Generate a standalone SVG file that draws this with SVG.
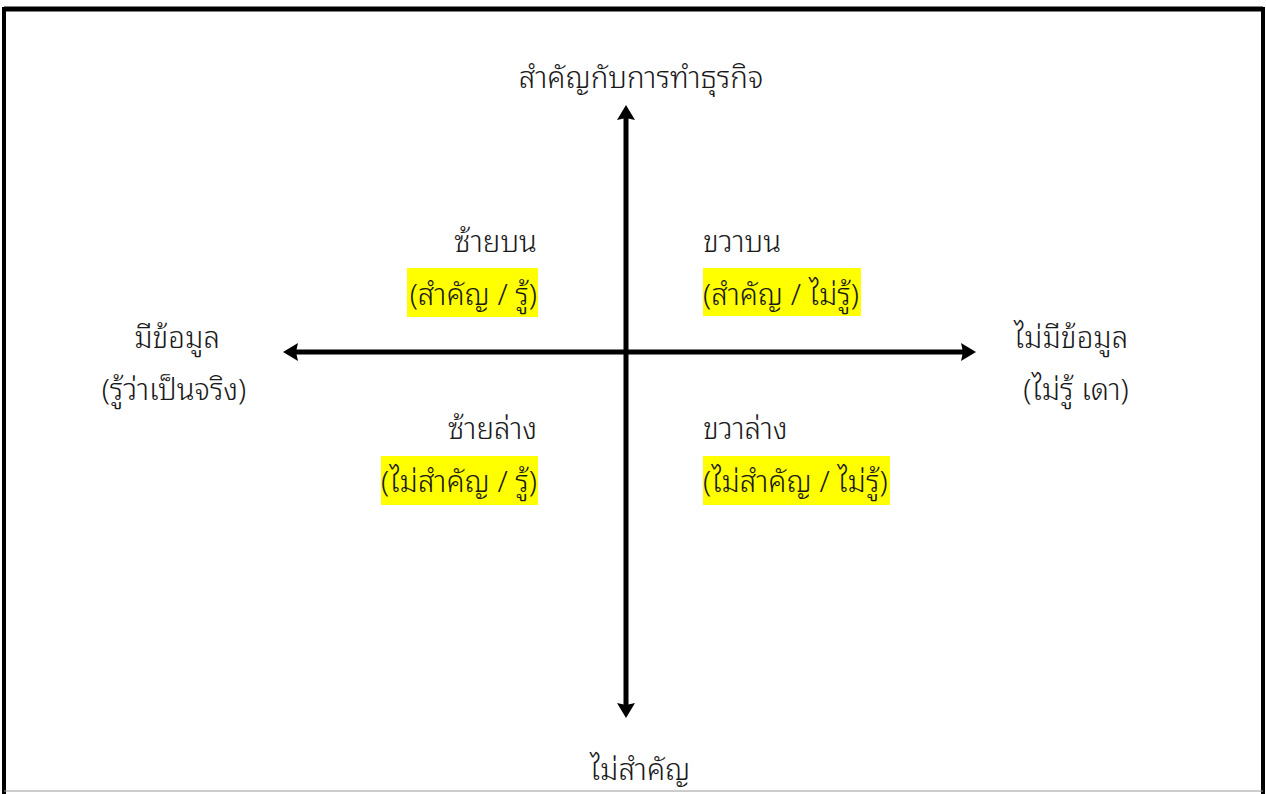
<svg xmlns="http://www.w3.org/2000/svg" width="1266" height="794" viewBox="0 0 1266 794">
<defs>
<style>
text{font-family:"Noto Sans Thai Looped","Noto Looped Thai","Noto Serif Thai","Noto Sans Thai","Noto Sans","DejaVu Sans",sans-serif;font-size:29.5px;font-weight:300;fill:#1a1a1a}
.hl{fill:#ffff00}
.ax{stroke:#000;stroke-width:5;fill:none}
</style>
<marker id="ah" viewBox="0 0 15 18" refX="2" refY="9" markerWidth="15" markerHeight="18" orient="auto-start-reverse" markerUnits="userSpaceOnUse"><path d="M0,0L15,9L0,18L2,9z" fill="#000"/></marker>
</defs>
<rect width="1266" height="794" fill="#fff"/>
<path d="M4,794V9H1263V794" fill="none" stroke="#000" stroke-width="4"/>
<line x1="4" y1="9" x2="1263" y2="9" stroke="#000" stroke-width="5"/>
<line x1="4" y1="791" x2="1263" y2="791" stroke="#999" stroke-width="1"/>
<g id="connectors">
<line class="ax" x1="626" y1="705" x2="626" y2="118" marker-start="url(#ah)" marker-end="url(#ah)"/>
<line class="ax" x1="296" y1="352" x2="963" y2="352" marker-start="url(#ah)" marker-end="url(#ah)"/>
</g>
<g id="top"><text x="641" y="88" text-anchor="middle">สำคัญกับการทำธุรกิจ</text></g>
<g id="bottom"><text x="640" y="780" text-anchor="middle">ไม่สำคัญ</text></g>
<g id="left"><text x="177" y="348" text-anchor="middle">มีข้อมูล</text><text x="174" y="400" text-anchor="middle">(รู้ว่าเป็นจริง)</text></g>
<g id="right"><text x="1071" y="348" text-anchor="middle">ไม่มีข้อมูล</text><text x="1076" y="400" text-anchor="middle">(ไม่รู้ เดา)</text></g>
<g id="tl"><text x="537" y="252" text-anchor="end">ซ้ายบน</text><rect class="hl" x="407" y="268" width="131" height="49"/><text x="537" y="305" text-anchor="end">(สำคัญ / รู้)</text></g>
<g id="tr"><text x="703" y="252">ขวาบน</text><rect class="hl" x="703" y="268" width="158" height="48"/><text x="703" y="305">(สำคัญ / ไม่รู้)</text></g>
<g id="bl"><text x="537" y="439" text-anchor="end">ซ้ายล่าง</text><rect class="hl" x="381" y="456" width="157" height="49"/><text x="537" y="492" text-anchor="end">(ไม่สำคัญ / รู้)</text></g>
<g id="br"><text x="703" y="439">ขวาล่าง</text><rect class="hl" x="703" y="456" width="187" height="49"/><text x="703" y="492">(ไม่สำคัญ / ไม่รู้)</text></g>
</svg>
